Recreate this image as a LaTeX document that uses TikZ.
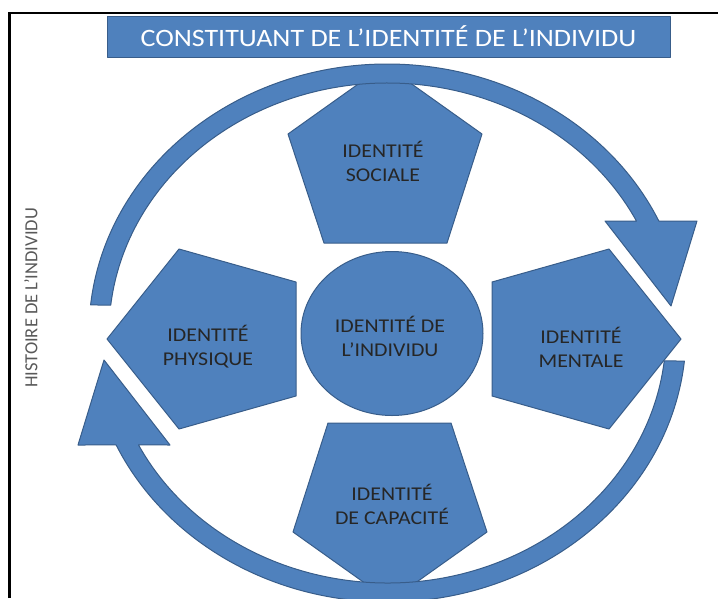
\documentclass[tikz,border=0pt]{standalone}
\usepackage{fontspec}
\setmainfont{Carlito}[FakeStretch=1.12]
\newfontfamily\sidefont{Carlito}
\usepackage{xcolor}
\usepackage{tikz}

\definecolor{pieceblue}{RGB}{79,129,189}
\definecolor{pieceedge}{RGB}{56,93,138}
\definecolor{sidegray}{RGB}{89,89,89}

\tikzset{
    piece/.style={fill=pieceblue, draw=pieceedge, line width=1pt, line join=round},
    piecetext/.style={align=center, text=black!85, font=\fontsize{19.5}{24}\selectfont},
    titletext/.style={text=white, font=\fontsize{25}{30}\selectfont},
    sidetext/.style={rotate=90, text=sidegray, font=\sidefont\fontsize{18.5}{22}\selectfont}
}

\begin{document}
\begin{tikzpicture}[x=1pt,y=-1pt]
                \useasboundingbox (0,0) rectangle (718,598);

                % frame
                \draw[
                    line width=2.5pt
                    ] (9.5,598) -- (9.5,13) -- (718,13);

                % title
                \draw[
                    piece
                    ] (107,16) rectangle (670,57) node[pos=.5, titletext] (titre) {CONSTITUANT DE L’IDENTITÉ DE L’INDIVIDU};

                % pentagons
                \draw[
                    piece
                    ] (385,65) -- (482,134) -- (447,243) -- (324,243) -- (288,134) -- cycle;

                \draw[
                    piece
                    ] (107,339) -- (179,249) -- (296,282) -- (296,396) -- (179,429) -- cycle;

                \draw[
                    piece
                    ] (681,339) -- (609,249) -- (492,282) -- (492,396) -- (609,429) -- cycle;

                \draw[
                    piece
                    ] (390,601) -- (293,532) -- (328,423) -- (451,423) -- (487,532) -- cycle;

                % centre
                \draw[
                    piece
                    ] (392,333.5) ellipse [x radius=91, y radius=82];

                % circular arrows
                \draw[
                    piece
                    ] (90.6,304.9) arc[start angle=186, end angle=335.4, x radius=298.5, y radius=269]
                    -- (697,221) -- (671,306) -- (605,221) -- (636.5,221.1)
                    arc[start angle=333.4, end angle=186.4, x radius=278.5, y radius=250] -- cycle;

                \draw[
                    piece,
                    rotate around={180:(387.5,333)}
                    ] (90.6,304.9) arc[start angle=186, end angle=335.4, x radius=298.5, y radius=269]
                    -- (697,221) -- (671,306) -- (605,221) -- (636.5,221.1)
                    arc[start angle=333.4, end angle=186.4, x radius=278.5, y radius=250] -- cycle;

                % labels
                \node[piecetext] (sociale) at (383,161) {IDENTITÉ\\SOCIALE};
                \node[piecetext] (physique) at (208,347) {IDENTITÉ\\PHYSIQUE};
                \node[piecetext] (mentale) at (581,347) {IDENTITÉ\\MENTALE};
                \node[piecetext] (capacite) at (392,504) {IDENTITÉ\\DE CAPACITÉ};
                \node[piecetext] (individu) at (390,336) {IDENTITÉ DE\\L’INDIVIDU};

                \node[sidetext] (histoire) at (31,298) {HISTOIRE DE L’INDIVIDU};

             \end{tikzpicture}
\end{document}
